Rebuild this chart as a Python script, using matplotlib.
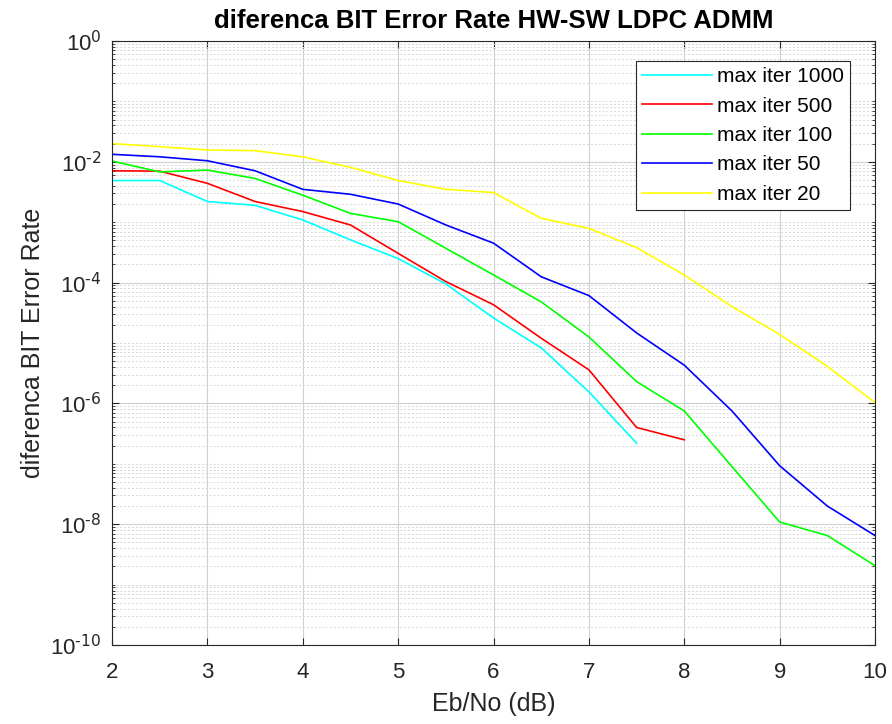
import numpy as np
import matplotlib
matplotlib.use("Agg")
import matplotlib.pyplot as plt
from matplotlib.ticker import FixedLocator, NullFormatter

plt.rcParams['font.family'] = ['Liberation Sans', 'DejaVu Sans']
plt.rcParams['mathtext.default'] = 'regular'
plt.rcParams['axes.unicode_minus'] = False

# == Data == #
ebno = [2, 2.5, 3, 3.5, 4, 4.5, 5, 5.5, 6, 6.5, 7, 7.5, 8, 8.5, 9, 9.5, 10]

ber_1000 = [4.9e-3, 4.9e-3, 2.2e-3, 1.9e-3, 1.09e-3, 5.1e-4, 2.5e-4, 9.5e-5,
            2.6e-5, 8.3e-6, 1.55e-6, 2.2e-7]
ber_500 = [7.1e-3, 7.0e-3, 4.4e-3, 2.2e-3, 1.5e-3, 9.0e-4, 3.05e-4, 1.04e-4,
           4.3e-5, 1.2e-5, 3.6e-6, 4.0e-7, 2.5e-7]
ber_100 = [1.03e-2, 6.8e-3, 7.3e-3, 5.3e-3, 2.8e-3, 1.4e-3, 1.02e-3, 3.7e-4,
           1.34e-4, 4.8e-5, 1.26e-5, 2.3e-6, 7.5e-7, 9.0e-8, 1.09e-8, 6.5e-9,
           2.06e-9]
ber_50 = [1.33e-2, 1.21e-2, 1.04e-2, 7.1e-3, 3.5e-3, 2.9e-3, 2.0e-3, 9.0e-4,
          4.5e-4, 1.25e-4, 6.1e-5, 1.47e-5, 4.3e-6, 7.5e-7, 9.3e-8, 2.0e-8,
          6.5e-9]
ber_20 = [2.0e-2, 1.78e-2, 1.57e-2, 1.53e-2, 1.21e-2, 8.1e-3, 4.9e-3, 3.5e-3,
          3.1e-3, 1.16e-3, 7.9e-4, 3.8e-4, 1.34e-4, 4.0e-5, 1.39e-5, 4.1e-6,
          1.03e-6]

labels = ['max iter 1000', 'max iter 500', 'max iter 100', 'max iter 50', 'max iter 20']
colors = ['#00ffff', '#ff0000', '#00ff00', '#0000ff', '#ffff00']
exps = [0, -2, -4, -6, -8, -10]

# == Figure == #
fig = plt.figure(figsize=(8.92, 7.24), dpi=100)
ax = fig.add_axes([0.1256, 0.109, 0.8554, 0.8344])

for vals, lab, c in zip([ber_1000, ber_500, ber_100, ber_50, ber_20], labels, colors):
    ax.semilogy(ebno[:len(vals)], vals, color=c, lw=1.2, label=lab)

ax.set_xlim(2, 10)
ax.set_ylim(1e-10, 1)
ax.set_xticks(range(2, 11))

# MATLAB style: labels every 2 decades, dotted minor grid in between
major = [10.0**k for k in exps]
minor = [m * 10.0**k for k in range(-10, 0) for m in range(1, 10)
         if not (m == 1 and k % 2 == 0)]
ax.yaxis.set_major_locator(FixedLocator(major))
ax.yaxis.set_minor_locator(FixedLocator(minor))
ax.yaxis.set_minor_formatter(NullFormatter())
ax.set_yticklabels([r'$10^{\text{%d}}$' % k for k in exps])

ax.grid(True, which='major', color='#d0d0d0', lw=0.8, ls='-')
ax.grid(True, which='minor', axis='y', color='#d8d8d8', lw=0.7, ls=(0, (2, 2)))
ax.set_axisbelow(True)

ax.tick_params(which='both', direction='in', top=True, right=True,
               labelsize=16, colors='#262626', labelcolor='#262626')
ax.tick_params(which='major', length=5)
ax.tick_params(which='minor', length=2.5)
ax.tick_params(axis='x', pad=12.5)
ax.tick_params(axis='y', pad=7.5)
for s in ax.spines.values():
    s.set_color('#262626')
    s.set_linewidth(0.8)

ax.set_xlabel('Eb/No (dB)', fontsize=18, color='#262626', labelpad=6)
ax.set_ylabel('diferenca BIT Error Rate', fontsize=18, color='#262626', labelpad=4)
ax.set_title('diferenca BIT Error Rate HW-SW LDPC ADMM', fontsize=18.5,
             fontweight='bold', color='black', pad=9)

leg = ax.legend(loc='upper right', bbox_to_anchor=(0.9672, 0.9669),
                borderaxespad=0, fontsize=15, handlelength=3.36,
                handletextpad=0.24, labelspacing=0.5, borderpad=0.3,
                fancybox=False, framealpha=1, edgecolor='#262626')
leg.get_frame().set_linewidth(0.8)

fig.savefig('out.png', dpi=100)
